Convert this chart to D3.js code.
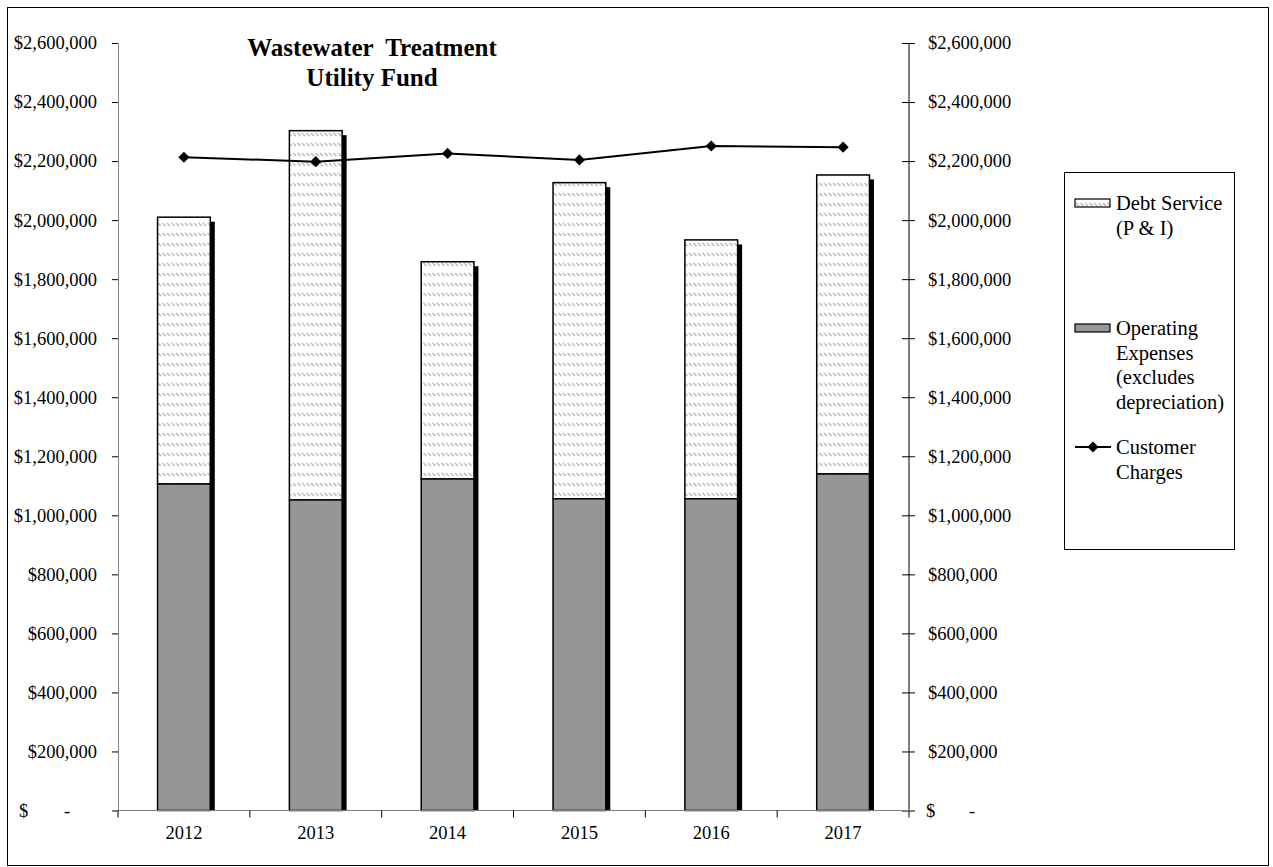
<!DOCTYPE html>
<html>
<head>
<meta charset="utf-8">
<script src="https://cdn.jsdelivr.net/npm/d3@7"></script>
<style>
  html, body { margin: 0; padding: 0; background: #fff; }
  svg { display: block; font-family: "Liberation Serif", "Times New Roman", serif; }
</style>
</head>
<body>
<svg id="chart" width="1273" height="867"></svg>
<script>
// Wastewater Treatment Utility Fund, 2012-2017
const years = ["2012", "2013", "2014", "2015", "2016", "2017"];
const operatingExpenses = [1106000, 1052000, 1123000, 1056000, 1056000, 1140000];
const debtService = [904000, 1251000, 736000, 1071000, 877000, 1013000];
const customerCharges = [2213000, 2198000, 2226000, 2204000, 2251000, 2247000];
const yTicks = [0, 200000, 400000, 600000, 800000, 1000000, 1200000, 1400000,
                1600000, 1800000, 2000000, 2200000, 2400000, 2600000];
const titleLines = ["Wastewater  Treatment", "Utility Fund"];
const legendItems = [
  { kind: "debt", lines: ["Debt Service", "(P & I)"] },
  { kind: "operating", lines: ["Operating", "Expenses", "(excludes", "depreciation)"] },
  { kind: "charges", lines: ["Customer", "Charges"] }
];

const FONT = '"Liberation Serif", "Times New Roman", serif';
const svg = d3.select("#chart");
const W = 1273, H = 867;
const plot = { left: 118, right: 909, top: 43, bottom: 810.5 };

svg.append("rect").attr("x", 7.5).attr("y", 7.5).attr("width", W - 12).attr("height", H - 9)
  .attr("fill", "#fff").attr("stroke", "#000").attr("stroke-width", 1);

// light diagonal dash pattern for debt service
const defs = svg.append("defs");
const pat = defs.append("pattern").attr("id", "hatch").attr("patternUnits", "userSpaceOnUse")
  .attr("width", 4.5).attr("height", 10);
pat.append("rect").attr("width", 4.5).attr("height", 10).attr("fill", "#fff");
pat.append("path").attr("d", "M0.5,3 L3.5,6").attr("stroke", "#b0b0b0").attr("stroke-width", 1.1);

const x = d3.scaleBand().domain(years).range([plot.left, plot.right])
  .paddingInner(0.6).paddingOuter(0.3);
const y = d3.scaleLinear().domain([0, 2600000]).range([plot.bottom, plot.top]);

const money = d3.format(",");
const fmt = v => v === 0 ? "" : "$" + money(v);

// left axis
const gl = svg.append("g").attr("transform", `translate(${plot.left},0)`)
  .call(d3.axisLeft(y).tickValues(yTicks).tickFormat(fmt).tickSize(6).tickSizeOuter(0).tickPadding(15));
gl.attr("font-family", FONT).attr("font-size", 18.5);
gl.select(".domain").attr("stroke", "#808080");
gl.selectAll(".tick line").attr("stroke", "#000");
gl.selectAll("text").attr("fill", "#000");

// right axis
const gr = svg.append("g").attr("transform", `translate(${plot.right},0)`)
  .call(d3.axisRight(y).tickValues(yTicks).tickFormat(fmt).tickSize(6).tickSizeOuter(0).tickPadding(13));
gr.attr("font-family", FONT).attr("font-size", 18.5);
gr.select(".domain").attr("stroke", "#000").attr("d", `M0,${plot.top}V${plot.bottom + 7}`);
gr.selectAll(".tick line").attr("x1", -7).attr("stroke", "#000");
gr.selectAll("text").attr("fill", "#000").attr("x", 19);

// zero labels in accounting style: "$" and dash
[[gl, plot.left, 19, 64], [gr, plot.right, 926, 969]].forEach(([g, base, dx, mx]) => {
  const t = g.selectAll(".tick").filter(d => d === 0).select("text");
  t.attr("text-anchor", "start").attr("x", 0).text(null);
  t.append("tspan").attr("x", dx - base).text("$");
  t.append("tspan").attr("x", mx - base).text("-");
});

// stacked bars with drop shadow
const bw = x.bandwidth();
const sh = 4.5;
const gBars = svg.append("g");
years.forEach((yr, i) => {
  const x0 = x(yr);
  const total = operatingExpenses[i] + debtService[i];
  gBars.append("rect").attr("x", x0 + sh).attr("y", y(total) + sh)
    .attr("width", bw).attr("height", y(0) - y(total) - sh).attr("fill", "#000");
  gBars.append("rect").attr("x", x0).attr("y", y(total))
    .attr("width", bw).attr("height", y(operatingExpenses[i]) - y(total))
    .attr("fill", "url(#hatch)").attr("stroke", "#000").attr("stroke-width", 1.5);
  gBars.append("rect").attr("x", x0).attr("y", y(operatingExpenses[i]))
    .attr("width", bw).attr("height", y(0) - y(operatingExpenses[i]))
    .attr("fill", "#969696").attr("stroke", "#000").attr("stroke-width", 1.5);
});

// bottom axis: ticks at category boundaries
const gb = svg.append("g");
gb.append("line").attr("x1", plot.left).attr("x2", plot.right + 6)
  .attr("y1", plot.bottom).attr("y2", plot.bottom).attr("stroke", "#808080").attr("stroke-width", 1.2);
const step = x.step();
const bounds = d3.range(years.length).map(i => plot.left + i * step);
bounds.forEach(bx => {
  gb.append("line").attr("x1", bx).attr("x2", bx).attr("y1", plot.bottom).attr("y2", plot.bottom + 7)
    .attr("stroke", "#000");
});
years.forEach(yr => {
  gb.append("text").attr("x", x(yr) + bw / 2).attr("y", 839).attr("text-anchor", "middle")
    .attr("font-size", 18.5).text(yr);
});

// customer charges line
const cx = yr => x(yr) + bw / 2;
svg.append("path").datum(customerCharges)
  .attr("d", d3.line().x((d, i) => cx(years[i])).y(d => y(d)))
  .attr("fill", "none").attr("stroke", "#000").attr("stroke-width", 2);
const diamond = d3.symbol().type(d3.symbolDiamond2).size(80);
svg.selectAll(".mk").data(customerCharges).join("path")
  .attr("transform", (d, i) => `translate(${cx(years[i])},${y(d)})`)
  .attr("d", diamond).attr("fill", "#000");

// title
svg.selectAll(".title").data(titleLines).join("text")
  .attr("x", 372).attr("y", (d, i) => 56 + i * 30).attr("text-anchor", "middle")
  .attr("font-weight", "bold").attr("font-size", 25).style("white-space", "pre").text(d => d);

// legend
const lg = svg.append("g");
lg.append("rect").attr("x", 1064.5).attr("y", 172.5).attr("width", 170).attr("height", 377)
  .attr("fill", "#fff").attr("stroke", "#000");
const itemTop = [203, 328, 447];
legendItems.forEach((it, k) => {
  const cy = itemTop[k];
  if (it.kind === "debt") {
    lg.append("rect").attr("x", 1075).attr("y", cy - 4).attr("width", 35).attr("height", 8)
      .attr("fill", "url(#hatch)").attr("stroke", "#000").attr("stroke-width", 1.2);
  } else if (it.kind === "operating") {
    lg.append("rect").attr("x", 1075).attr("y", cy - 4).attr("width", 35).attr("height", 8)
      .attr("fill", "#969696").attr("stroke", "#000").attr("stroke-width", 1.2);
  } else {
    lg.append("line").attr("x1", 1075).attr("x2", 1111).attr("y1", cy).attr("y2", cy)
      .attr("stroke", "#000").attr("stroke-width", 2);
    lg.append("path").attr("transform", `translate(1093,${cy})`).attr("d", diamond).attr("fill", "#000");
  }
  it.lines.forEach((ln, j) => {
    lg.append("text").attr("x", 1116).attr("y", cy + 7 + j * 24.5)
      .attr("font-size", 20.5).text(ln);
  });
});
</script>
</body>
</html>
